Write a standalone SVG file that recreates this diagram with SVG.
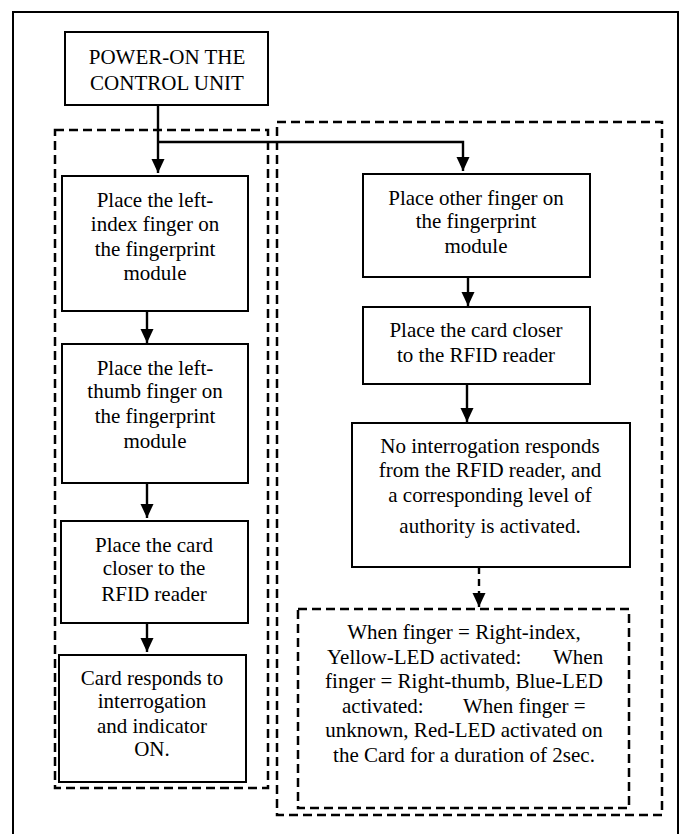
<svg xmlns="http://www.w3.org/2000/svg" width="685" height="834" viewBox="0 0 685 834">
<style>
  .box{fill:#fff;stroke:#000;stroke-width:2}
  .dash{fill:none;stroke:#000;stroke-width:2.5;stroke-dasharray:9 5}
  .frame{fill:#fff;stroke:#000;stroke-width:2}
  .t{font-family:"Liberation Serif","Times New Roman",serif;font-size:21px;fill:#000;text-anchor:middle}
  .ts{font-family:"Liberation Serif","Times New Roman",serif;font-size:21px;fill:#000}
  .c{fill:none;stroke:#000;stroke-width:2.4}
  .cd{fill:none;stroke:#000;stroke-width:2.4;stroke-dasharray:7 5}
</style>
<defs>
  <marker id="ah" markerUnits="userSpaceOnUse" markerWidth="14" markerHeight="14" refX="14" refY="6.5" orient="auto">
    <path d="M0,0 L14,6.5 L0,13 z" fill="#000"/>
  </marker>
</defs>
<rect class="frame" x="13" y="12" width="665" height="840"/>
<g id="groups">
  <rect id="left-group" class="dash" x="55" y="130" width="213" height="658"/>
  <rect id="right-group" class="dash" x="277" y="122" width="385" height="693"/>
</g>
<g id="connectors">
  <path class="c" d="M158,105 V173" marker-end="url(#ah)"/>
  <path class="c" d="M158,142 H463 V171" marker-end="url(#ah)"/>
  <path class="c" d="M147,311 V343" marker-end="url(#ah)"/>
  <path class="c" d="M147,483 V518" marker-end="url(#ah)"/>
  <path class="c" d="M147,623 V652" marker-end="url(#ah)"/>
  <path class="c" d="M468,277 V306" marker-end="url(#ah)"/>
  <path class="c" d="M467,384 V422" marker-end="url(#ah)"/>
  <path class="cd" d="M479,567 V607" marker-end="url(#ah)"/>
</g>
<g id="power">
  <rect class="box" x="65" y="32" width="203" height="73"/>
  <text class="t" x="167" y="64">POWER-ON THE</text>
  <text class="t" x="167" y="90">CONTROL UNIT</text>
</g>
<g id="left-index">
  <rect class="box" x="62" y="176" width="186" height="135"/>
  <text class="t" x="155" y="207">Place the left-</text>
  <text class="t" x="155" y="231">index finger on</text>
  <text class="t" x="155" y="256">the fingerprint</text>
  <text class="t" x="155" y="280">module</text>
</g>
<g id="left-thumb">
  <rect class="box" x="62" y="344" width="186" height="139"/>
  <text class="t" x="155" y="375">Place the left-</text>
  <text class="t" x="155" y="398">thumb finger on</text>
  <text class="t" x="155" y="423">the fingerprint</text>
  <text class="t" x="155" y="448">module</text>
</g>
<g id="left-card">
  <rect class="box" x="61" y="521" width="187" height="102"/>
  <text class="t" x="154" y="552">Place the card</text>
  <text class="t" x="154" y="575">closer to the</text>
  <text class="t" x="154" y="601">RFID reader</text>
</g>
<g id="left-respond">
  <rect class="box" x="59" y="655" width="187" height="127"/>
  <text class="t" x="152" y="685">Card responds to</text>
  <text class="t" x="152" y="708">interrogation</text>
  <text class="t" x="152" y="733">and indicator</text>
  <text class="t" x="152" y="756">ON.</text>
</g>
<g id="right-other">
  <rect class="box" x="363" y="174" width="227" height="103"/>
  <text class="t" x="476" y="205">Place other finger on</text>
  <text class="t" x="476" y="228">the fingerprint</text>
  <text class="t" x="476" y="253">module</text>
</g>
<g id="right-card">
  <rect class="box" x="363" y="307" width="227" height="77"/>
  <text class="t" x="476" y="337">Place the card closer</text>
  <text class="t" x="476" y="362">to the RFID reader</text>
</g>
<g id="right-nointerrogation">
  <rect class="box" x="352" y="423" width="278" height="144"/>
  <text class="t" x="490" y="453">No interrogation responds</text>
  <text class="t" x="490" y="477">from the RFID reader, and</text>
  <text class="t" x="490" y="502">a corresponding level of</text>
  <text class="t" x="490" y="533">authority is activated.</text>
</g>
<g id="led-result">
  <rect class="dash" x="298" y="609" width="331" height="199"/>
  <text class="t" x="464" y="639">When finger = Right-index,</text>
  <text class="ts" x="327" y="664">Yellow-LED activated:</text>
  <text class="ts" x="553" y="664">When</text>
  <text class="t" x="464" y="688">finger = Right-thumb, Blue-LED</text>
  <text class="ts" x="342" y="713">activated:</text>
  <text class="ts" x="463" y="713">When finger =</text>
  <text class="t" x="464" y="737">unknown, Red-LED activated on</text>
  <text class="t" x="464" y="762">the Card for a duration of 2sec.</text>
</g>
</svg>
